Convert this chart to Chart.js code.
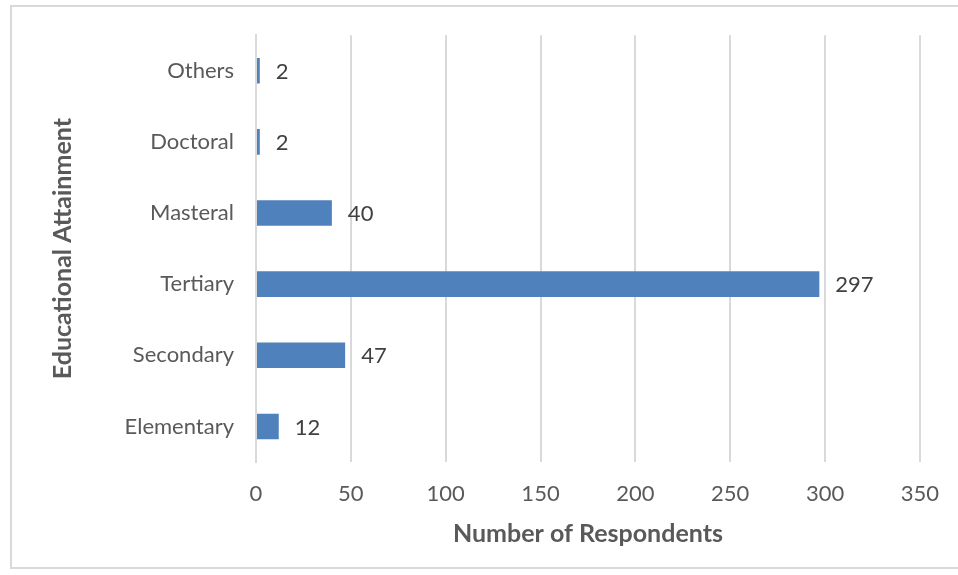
<!DOCTYPE html>
<html>
<head>
<meta charset="utf-8">
<script src="https://cdn.jsdelivr.net/npm/chart.js@4"></script>
<style>
  html, body { margin: 0; padding: 0; background: #fff; }
  #wrap { position: relative; width: 958px; height: 575px; }
  #frame { position: absolute; left: 10px; top: 5px; width: 960px; height: 564px; border: 2px solid #d9d9d9; box-sizing: border-box; }
  canvas { position: absolute; left: 0; top: 0; }
</style>
</head>
<body>
<div id="wrap">
  <div id="frame"></div>
  <canvas id="attainmentChart" width="958" height="575"></canvas>
</div>
<script>
// Respondents by educational attainment
const categories = ['Others', 'Doctoral', 'Masteral', 'Tertiary', 'Secondary', 'Elementary'];
const respondents = [2, 2, 40, 297, 47, 12];
const xTicks = [0, 50, 100, 150, 200, 250, 300, 350];

const textColor = '#595959';
const fontFamily = 'Lato, "Open Sans", sans-serif';

// Value labels just past the end of each bar
const barValueLabels = {
    id: 'barValueLabels',
    afterDatasetsDraw(chart) {
        const ctx = chart.ctx;
        const meta = chart.getDatasetMeta(0);
        ctx.save();
        ctx.fillStyle = '#404040';
        ctx.font = '22px ' + fontFamily;
        ctx.textAlign = 'left';
        ctx.textBaseline = 'middle';
        meta.data.forEach((bar, i) => {
            ctx.fillText(String(respondents[i]), bar.x + 16, bar.y + 1);
        });
        ctx.restore();
    }
};

document.addEventListener('DOMContentLoaded', function() {
    const ctx = document.getElementById('attainmentChart');

    new Chart(ctx, {
        type: 'bar',
        data: {
            labels: categories,
            datasets: [{
                label: 'Number of Respondents',
                data: respondents,
                backgroundColor: '#4f81bd',
                borderWidth: 0,
                barPercentage: 0.36,
                categoryPercentage: 1
            }]
        },
        options: {
            indexAxis: 'y',
            responsive: false,
            animation: false,
            layout: {
                padding: { top: 34, right: 37, left: 48, bottom: 26 }
            },
            plugins: {
                legend: { display: false },
                tooltip: { enabled: false }
            },
            scales: {
                x: {
                    min: 0,
                    max: 350,
                    afterBuildTicks(scale) {
                        scale.ticks = xTicks.map(v => ({ value: v }));
                    },
                    afterFit(scale) {
                        scale.height = 575 - 26 - 462;
                    },
                    grid: {
                        color: '#d9d9d9',
                        lineWidth: 2,
                        drawTicks: false
                    },
                    border: { display: false },
                    ticks: {
                        color: textColor,
                        padding: 19,
                        font: { family: fontFamily, size: 22 }
                    },
                    title: {
                        display: true,
                        text: 'Number of Respondents',
                        color: textColor,
                        padding: { top: 8, bottom: 0 },
                        font: { family: fontFamily, size: 25, weight: 'bold' }
                    }
                },
                y: {
                    afterFit(scale) {
                        scale.width = 256 - 48;
                    },
                    grid: { display: false, drawTicks: false },
                    border: { display: true, color: '#d9d9d9', width: 2 },
                    ticks: {
                        color: textColor,
                        padding: 22,
                        font: { family: fontFamily, size: 22 }
                    },
                    title: {
                        display: true,
                        text: 'Educational Attainment',
                        color: textColor,
                        padding: { top: 0, bottom: 0 },
                        font: { family: fontFamily, size: 25, weight: 'bold' }
                    }
                }
            }
        },
        plugins: [barValueLabels]
    });
});
</script>
</body>
</html>
